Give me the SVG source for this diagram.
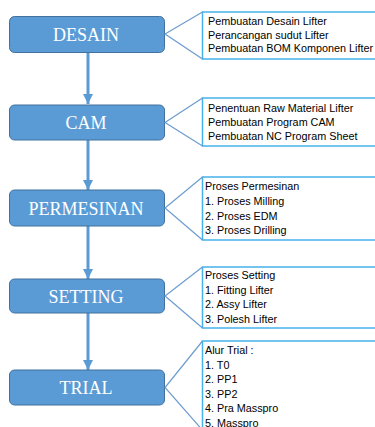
<svg xmlns="http://www.w3.org/2000/svg" width="375" height="427" viewBox="0 0 375 427">
  <style>
    .node { fill: #5b9bd5; stroke: #41719c; stroke-width: 1; }
    .ntxt { fill: #ffffff; font-family: "Liberation Serif", "Times New Roman", serif; font-size: 18px; text-anchor: middle; }
    .cbox { fill: #ffffff; stroke: #45b3ea; stroke-width: 1.5; }
    .cline { fill: none; stroke: #6c9ccf; stroke-width: 1.2; }
    .ctxt { fill: #000000; font-family: "Liberation Sans", Arial, sans-serif; font-size: 10.8px; }
    .arrow { stroke: #5b9bd5; stroke-width: 3; fill: none; }
  </style>
  <defs>
    <marker id="ah" markerWidth="10" markerHeight="10" refX="10" refY="5" orient="auto" markerUnits="userSpaceOnUse">
      <path d="M0,0 L10,5 L0,10 Z" fill="#5b9bd5"/>
    </marker>
  </defs>
  <rect width="375" height="427" fill="#ffffff"/>

  <g id="connectors">
    <line class="arrow" x1="88" y1="53" x2="88" y2="104" marker-end="url(#ah)"/>
    <line class="arrow" x1="88" y1="140" x2="88" y2="190" marker-end="url(#ah)"/>
    <line class="arrow" x1="88" y1="226" x2="88" y2="279" marker-end="url(#ah)"/>
    <line class="arrow" x1="88" y1="313" x2="88" y2="370" marker-end="url(#ah)"/>
  </g>

  <g id="desain">
    <rect class="node" x="9.5" y="16.5" width="155" height="36" rx="5"/>
    <text class="ntxt" x="86" y="41">DESAIN</text>
  </g>
  <g id="desain-note">
    <rect class="cbox" x="202.5" y="12" width="180" height="47"/>
    <path class="cline" d="M202.5,12 L165,34 L202.5,59"/>
    <text class="ctxt" x="208" y="25">Pembuatan Desain Lifter</text>
    <text class="ctxt" x="208" y="38.5">Perancangan sudut Lifter</text>
    <text class="ctxt" x="208" y="52">Pembuatan BOM Komponen Lifter</text>
  </g>

  <g id="cam">
    <rect class="node" x="9.5" y="105" width="155" height="35" rx="5"/>
    <text class="ntxt" x="86" y="129">CAM</text>
  </g>
  <g id="cam-note">
    <rect class="cbox" x="202.5" y="98" width="180" height="48"/>
    <path class="cline" d="M202.5,98 L165,122.5 L202.5,146"/>
    <text class="ctxt" x="208" y="112">Penentuan Raw Material Lifter</text>
    <text class="ctxt" x="208" y="126">Pembuatan Program CAM</text>
    <text class="ctxt" x="208" y="140">Pembuatan NC Program Sheet</text>
  </g>

  <g id="permesinan">
    <rect class="node" x="9.5" y="190" width="155" height="36" rx="5"/>
    <text class="ntxt" x="86" y="214.5">PERMESINAN</text>
  </g>
  <g id="permesinan-note">
    <rect class="cbox" x="202.5" y="177" width="180" height="63"/>
    <path class="cline" d="M202.5,177 L165,208 L202.5,240"/>
    <text class="ctxt" x="205" y="190">Proses Permesinan</text>
    <text class="ctxt" x="205" y="205">1. Proses Milling</text>
    <text class="ctxt" x="205" y="219.5">2. Proses EDM</text>
    <text class="ctxt" x="205" y="234">3. Proses Drilling</text>
  </g>

  <g id="setting">
    <rect class="node" x="9.5" y="279" width="155" height="34" rx="5"/>
    <text class="ntxt" x="86" y="302.5">SETTING</text>
  </g>
  <g id="setting-note">
    <rect class="cbox" x="202.5" y="267" width="180" height="61"/>
    <path class="cline" d="M202.5,267 L165,296 L202.5,328"/>
    <text class="ctxt" x="205" y="279">Proses Setting</text>
    <text class="ctxt" x="205" y="293.5">1. Fitting Lifter</text>
    <text class="ctxt" x="205" y="308">2. Assy Lifter</text>
    <text class="ctxt" x="205" y="322.5">3. Polesh Lifter</text>
  </g>

  <g id="trial">
    <rect class="node" x="9.5" y="370" width="155" height="35" rx="5"/>
    <text class="ntxt" x="86" y="394">TRIAL</text>
  </g>
  <g id="trial-note">
    <rect class="cbox" x="202.5" y="341" width="180" height="100"/>
    <path class="cline" d="M202.5,341 L165,387.5 L205,433"/>
    <text class="ctxt" x="205" y="354">Alur Trial :</text>
    <text class="ctxt" x="205" y="368.5">1. T0</text>
    <text class="ctxt" x="205" y="383">2. PP1</text>
    <text class="ctxt" x="205" y="397.5">3. PP2</text>
    <text class="ctxt" x="205" y="412">4. Pra Masspro</text>
    <text class="ctxt" x="205" y="426.5">5. Masspro</text>
  </g>
</svg>
